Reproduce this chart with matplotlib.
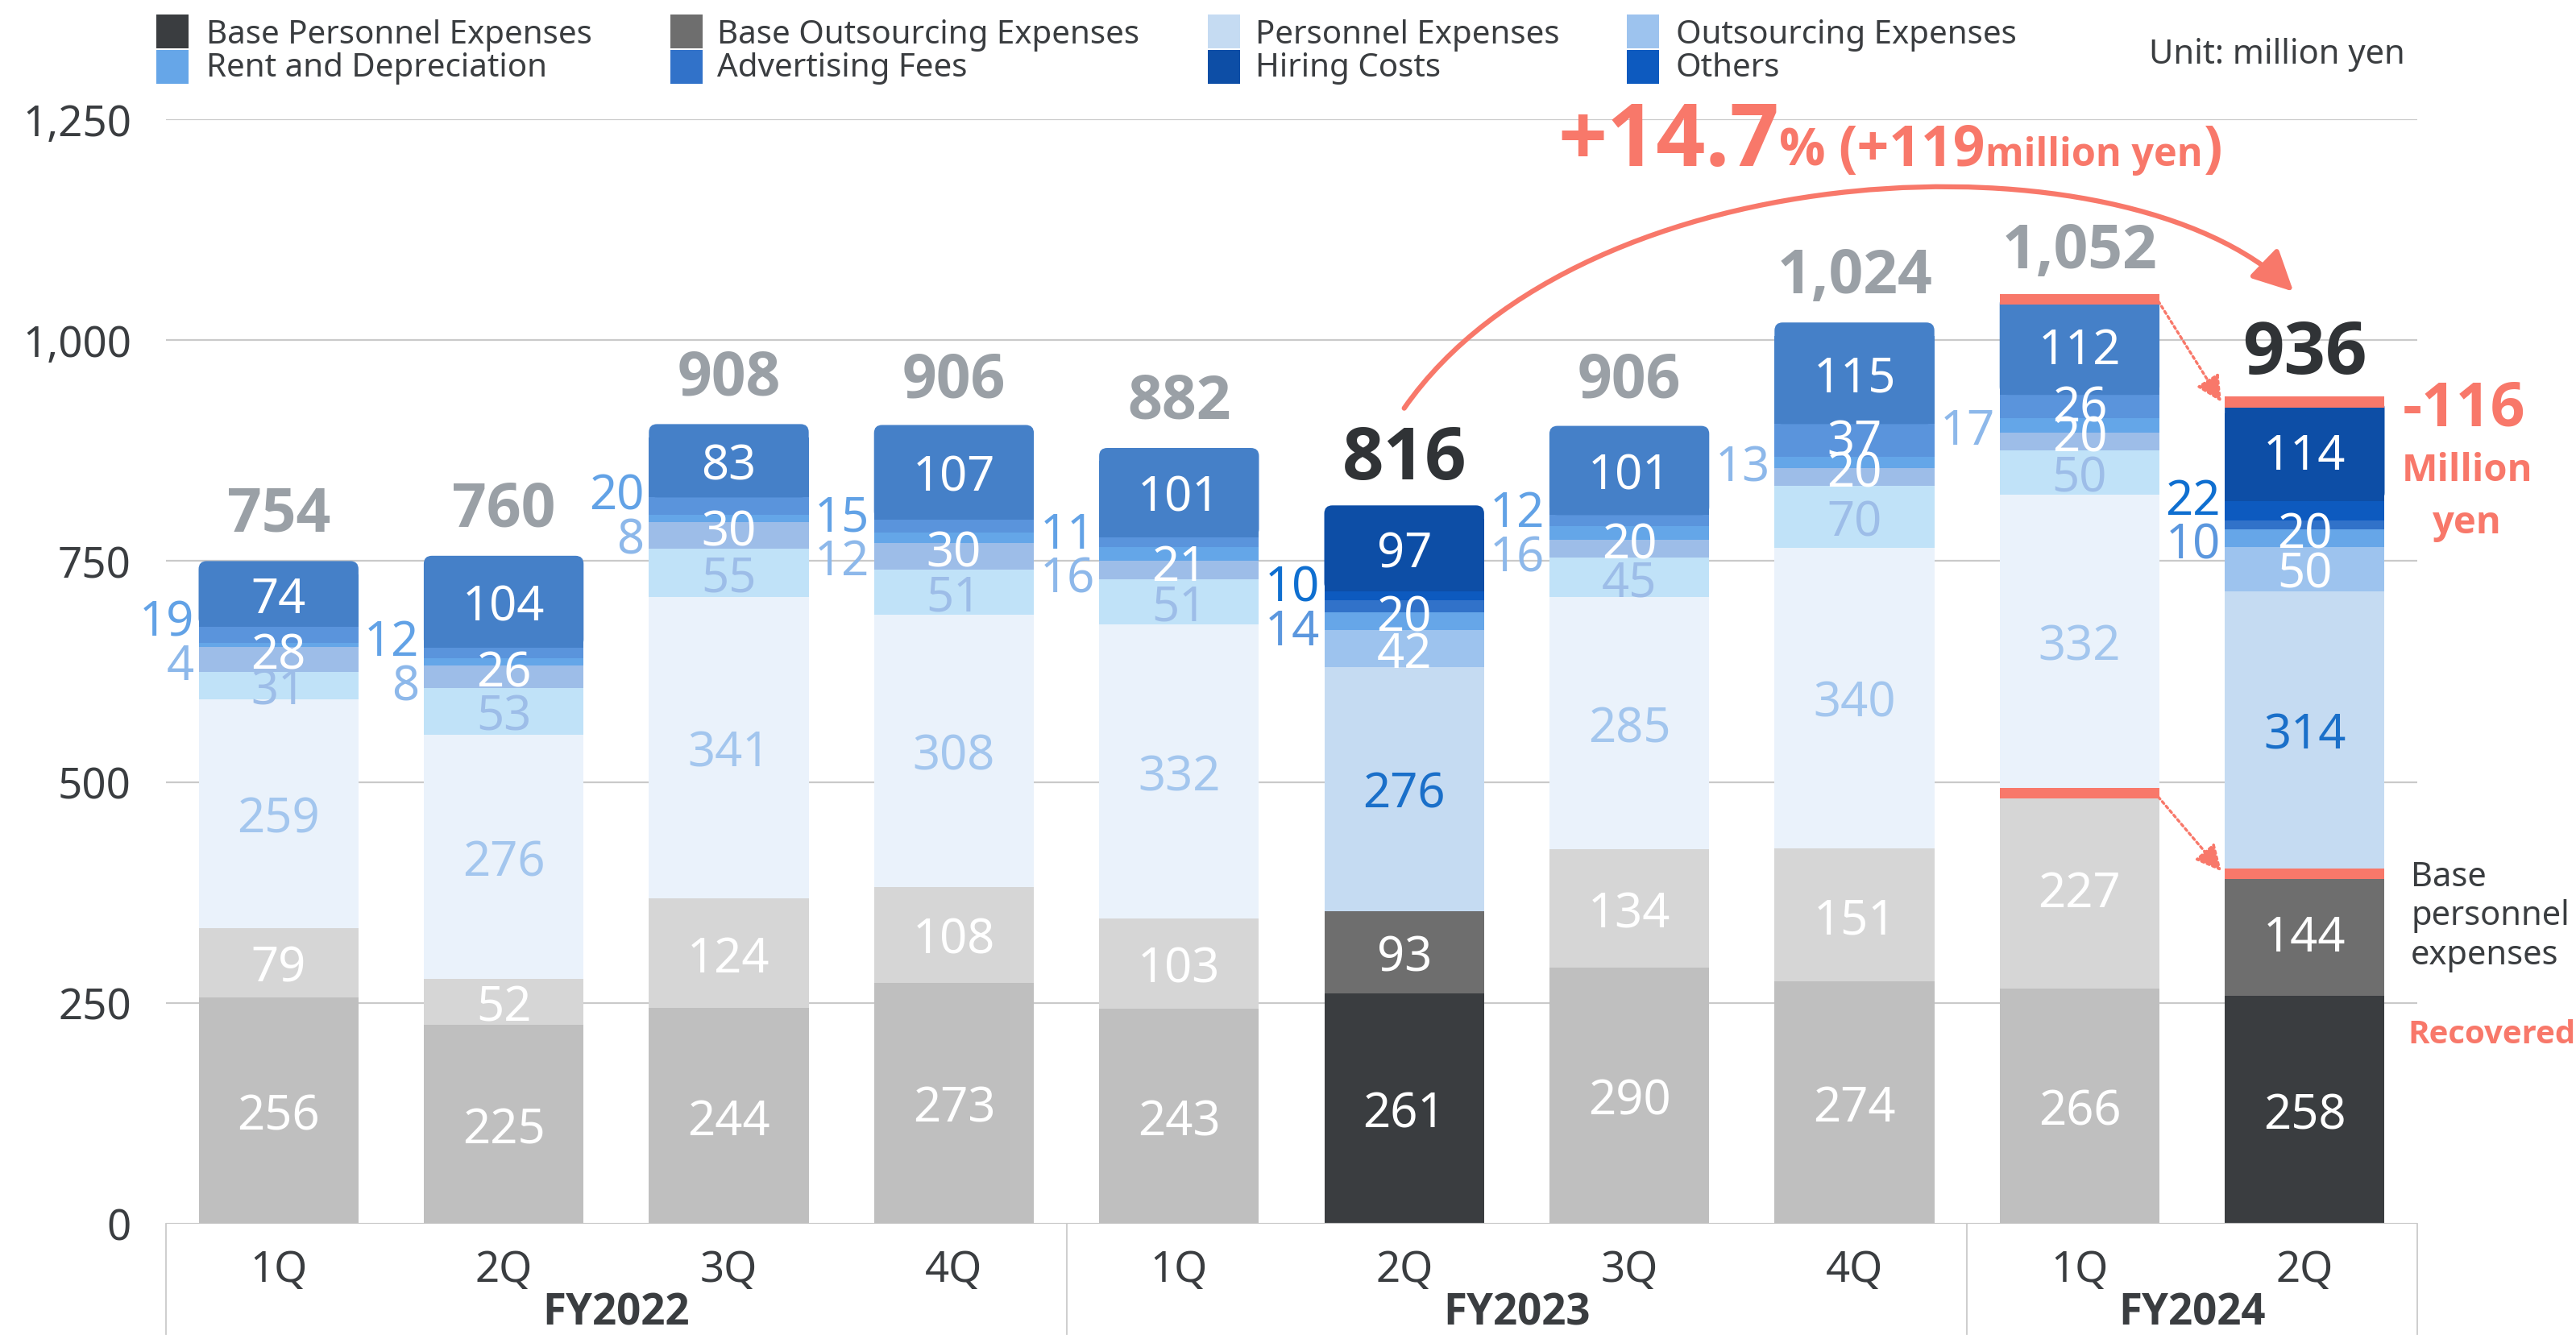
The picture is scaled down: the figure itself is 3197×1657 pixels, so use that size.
import numpy as np
import matplotlib.pyplot as plt
from matplotlib import font_manager as fm
from matplotlib.patches import Rectangle, FancyBboxPatch, FancyArrowPatch
from matplotlib.path import Path

plt.rcParams['font.family'] = ['Noto Sans', 'DejaVu Sans']


def pick_bold_family():
    # first family that really has a bold face installed
    for fam in ['Noto Sans', 'Open Sans', 'Noto Sans CJK JP', 'Roboto', 'Lato']:
        try:
            path = fm.findfont(fm.FontProperties(family=fam, weight='bold'),
                               fallback_to_default=False)
        except Exception:
            continue
        name = fm.get_font(path).family_name.lower()
        style = fm.get_font(path).style_name.lower()
        if fam.lower().split()[0] in name and 'bold' in (style + path.lower()):
            return fam
    return 'DejaVu Sans'


BOLD = [pick_bold_family(), 'DejaVu Sans']

# -----------------------------
# data (million yen)
# -----------------------------
quarters = ['1Q', '2Q', '3Q', '4Q', '1Q', '2Q', '3Q', '4Q', '1Q', '2Q']
fiscal_years = ['FY2022', 'FY2023', 'FY2024']
fy_first_last = [(0, 3), (4, 7), (8, 9)]

base_personnel = [256, 225, 244, 273, 243, 261, 290, 274, 266, 258]
base_outsourcing = [79, 52, 124, 108, 103, 93, 134, 151, 227, 144]
personnel = [259, 276, 341, 308, 332, 276, 285, 340, 332, 314]
outsourcing = [31, 53, 55, 51, 51, 42, 45, 70, 50, 50]
rent = [28, 26, 30, 30, 21, 20, 20, 20, 20, 20]
advertising = [4, 8, 8, 12, 16, 14, 16, 13, 17, 10]
others = [19, 12, 20, 15, 11, 10, 12, 37, 26, 22]
hiring = [74, 104, 83, 107, 101, 97, 101, 115, 112, 114]
totals = [754, 760, 908, 906, 882, 816, 906, 1024, 1052, 936]

highlight = [5, 9]

legend_names = ['Base Personnel Expenses', 'Base Outsourcing Expenses', 'Personnel Expenses',
                'Outsourcing Expenses', 'Rent and Depreciation', 'Advertising Fees',
                'Hiring Costs', 'Others']

# -----------------------------
# styles
# -----------------------------
W, H = 3197, 1658
TXT = '#3a3d40'
RED = '#f8786a'
GRID = '#cacaca'

# stack order: base pers, base outs, personnel, outsourcing, rent, advertising, others, hiring
hl_colors = ['#3a3d40', '#6e6e6e', '#c5dbf2', '#9dc3ee', '#66a6e8', '#3172c9', '#0d5abf', '#0d4ea6']
dim_colors = ['#bfbfbf', '#d6d6d6', '#eaf2fb', '#c0e2f8', '#9dbde8', '#64a6e8', '#5a94dc', '#4580c8']
legend_colors = {'Base Personnel Expenses': '#3a3d40', 'Base Outsourcing Expenses': '#6e6e6e',
                 'Personnel Expenses': '#c5dbf2', 'Outsourcing Expenses': '#9dc3ee',
                 'Rent and Depreciation': '#66a6e8', 'Advertising Fees': '#3172c9',
                 'Hiring Costs': '#0d4ea6', 'Others': '#0d5abf'}

fig = plt.figure(figsize=(W / 100, H / 100), dpi=100)
ax = fig.add_axes([206 / W, 1 - 1520 / H, (3000 - 206) / W, (1520 - 149) / H])
ax.set_xlim(-0.5, 9.5)
ax.set_ylim(0, 1250)
for s in ax.spines.values():
    s.set_visible(False)

# gridlines
for yv in range(0, 1251, 250):
    ax.axhline(yv, color=GRID, lw=1.6, zorder=1 if yv else 3)

ax.set_xticks([])
ax.set_yticks(range(0, 1251, 250))
ax.set_yticklabels([f'{v:,}' for v in range(0, 1251, 250)])
ax.tick_params(axis='y', length=0, pad=31, labelsize=38, labelcolor=TXT)

# -----------------------------
# bars
# -----------------------------
x = np.arange(len(quarters))
bw = 0.71
stack = np.array([base_personnel, base_outsourcing, personnel, outsourcing,
                  rent, advertising, others, hiring])
bottoms = np.vstack([np.zeros(len(x)), np.cumsum(stack, axis=0)[:-1]])

for k in range(7):
    cols = [hl_colors[k] if i in highlight else dim_colors[k] for i in x]
    ax.bar(x, stack[k], bw, bottom=bottoms[k], color=cols, linewidth=0, zorder=2)

for i in x:
    col = hl_colors[7] if i in highlight else dim_colors[7]
    b, h = bottoms[7][i], stack[7][i]
    ax.bar(i, h - 15, bw, bottom=b, color=col, linewidth=0, zorder=2)
    ax.add_patch(FancyBboxPatch((i - bw / 2, b), bw, h,
                                boxstyle='round,pad=0,rounding_size=0.036',
                                mutation_aspect=253, fc=col, lw=0, zorder=2))

# -----------------------------
# value labels
# -----------------------------
fs_in = 43
dy = -6  # optical correction for vertical centring of digits
for i in x:
    hl = i in highlight
    b = bottoms[:, i]
    h = stack[:, i]
    cen = b + h / 2

    def lab(y, val, color, ha='center', xx=i):
        ax.text(xx, y + dy, str(val), ha=ha, va='center', fontsize=fs_in, color=color, zorder=5)

    lab(cen[0], h[0], 'white')
    lab(cen[1], h[1], 'white')
    lab(cen[2], h[2], '#1a6fc9' if hl else '#a3c6ee')
    lab(cen[3], h[3], 'white' if hl else '#9dbde8')
    lab(cen[4] + 10, h[4], 'white')

    left_x = i - bw / 2 - 0.02
    adv_col = '#5b97de' if hl else '#8db8ea'
    oth_col = '#0f6fd0' if hl else '#62a2e6'
    if h[6] >= 25:
        lab(cen[6] + 4, h[6], 'white')
        lab(cen[5], h[5], adv_col, ha='right', xx=left_x)
    else:
        mid = (b[5] + b[6] + h[6]) / 2
        lab(mid + 22, h[6], oth_col, ha='right', xx=left_x)
        lab(mid - 28, h[5], adv_col, ha='right', xx=left_x)
    lab(cen[7], h[7], 'white')

    ax.text(i, totals[i] + 48, f'{totals[i]:,}', ha='center', va='center',
            fontsize=65 if hl else 54, weight='bold', family=BOLD,
            color='#303336' if hl else '#9aa0a6', zorder=5)

# -----------------------------
# red markers and arrows
# -----------------------------
for i in (8, 9):
    ax.add_patch(Rectangle((i - bw / 2, totals[i] - 12), bw, 12, fc=RED, lw=0, zorder=4))
    top_base = base_personnel[i] + base_outsourcing[i]
    ax.add_patch(Rectangle((i - bw / 2, top_base - 12), bw, 12, fc=RED, lw=0, zorder=4))

for (x0, y0), (x1, y1) in [((8.35, 1044), (8.63, 930)), ((8.35, 483), (8.63, 399))]:
    ax.annotate('', xy=(x1, y1), xytext=(x0, y0), zorder=4,
                arrowprops=dict(arrowstyle='-|>,head_length=0.7,head_width=0.35',
                                color=RED, lw=2.4, linestyle=(0, (1, 1.2)),
                                mutation_scale=28, shrinkA=0, shrinkB=0))

arc = Path([(5.0, 923), (5.8, 1215), (8.2, 1240), (8.95, 1055)],
           [Path.MOVETO, Path.CURVE4, Path.CURVE4, Path.CURVE4])
ax.add_patch(FancyArrowPatch(path=arc, arrowstyle='-|>,head_length=0.9,head_width=0.45',
                             mutation_scale=34, color=RED, lw=4.5, zorder=4))

# headline growth text
fig.canvas.draw()
renderer = fig.canvas.get_renderer()
xpos = 1933
for s, fs, gap in [('+14.7', 77, 0), ('%', 46, 16), ('(+119', 50, 0),
                   ('million yen', 35, 2), (')', 50, 0)]:
    t = fig.text(xpos / W, 1 - 206 / H, s, fontsize=fs, weight='bold', family=BOLD,
                 color=RED, ha='left', va='baseline')
    xpos = t.get_window_extent(renderer=renderer).x1 + gap

# right-hand annotations
fig.text(3058 / W, 1 - 529 / H, '-116', fontsize=54, weight='bold', family=BOLD,
         color=RED, ha='center', va='baseline')
fig.text(3062 / W, 1 - 597 / H, 'Million', fontsize=34, weight='bold', family=BOLD,
         color=RED, ha='center', va='baseline')
fig.text(3062 / W, 1 - 662 / H, 'yen', fontsize=34, weight='bold', family=BOLD,
         color=RED, ha='center', va='baseline')
for line, yb in zip(['Base', 'personnel', 'expenses'], [1100, 1148, 1197]):
    fig.text(2992 / W, 1 - yb / H, line, fontsize=30, color=TXT, ha='left', va='baseline')
fig.text(2988 / W, 1 - 1295 / H, 'Recovered', fontsize=29, weight='bold', family=BOLD,
         color=RED, ha='left', va='baseline')

# -----------------------------
# category axis (quarters / fiscal years)
# -----------------------------
for xv in [-0.5, 3.5, 7.5, 9.5]:
    ax.plot([xv, xv], [0, -125], color=GRID, lw=1.3, clip_on=False, zorder=1)
for i, q in enumerate(quarters):
    ax.text(i, -52, q, ha='center', va='center', fontsize=38, color=TXT)
for fy, (a, b) in zip(fiscal_years, fy_first_last):
    ax.text((a + b) / 2, -101, fy, ha='center', va='center', fontsize=38,
            weight='bold', family=BOLD, color=TXT)

# -----------------------------
# legend (2 rows x 4 columns)
# -----------------------------
col_patch_x = [194, 832, 1499, 2019]
col_text_x = [256, 890, 1558, 2080]
row_y = [(19, 61), (63, 105)]
row_text_y = [44, 85]
for n, name in enumerate(legend_names):
    r, c = divmod(n, 4)
    y_top, y_bot = row_y[r]
    fig.add_artist(Rectangle((col_patch_x[c] / W, 1 - y_bot / H), 40 / W, (y_bot - y_top) / H,
                             transform=fig.transFigure, fc=legend_colors[name], lw=0))
    fig.text(col_text_x[c] / W, 1 - row_text_y[r] / H, name, fontsize=29, color=TXT,
             ha='left', va='center')
fig.text(2667 / W, 1 - 68 / H, 'Unit: million yen', fontsize=30, color=TXT,
         ha='left', va='center')

fig.savefig('out.png', dpi=100)
